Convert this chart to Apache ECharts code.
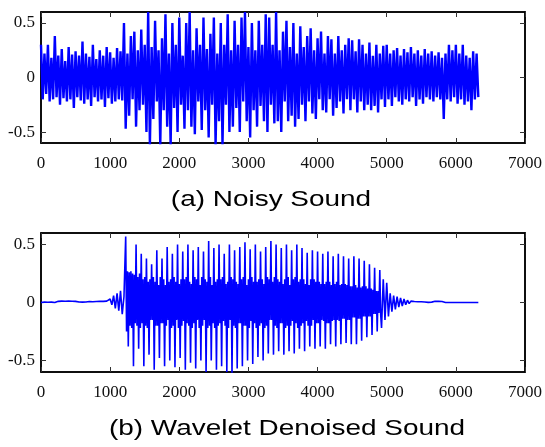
<!DOCTYPE html>
<html>
<head>
<meta charset="utf-8">
<script src="https://cdn.jsdelivr.net/npm/echarts@6/dist/echarts.min.js"></script>
<style>
  html, body { margin: 0; padding: 0; background: #fff; }
  #chart { width: 545px; height: 447px; }
</style>
</head>
<body>
<div id="chart"></div>
<script>
const xTicks = [0, 1000, 2000, 3000, 4000, 5000, 6000, 7000];
const yTicks = [-0.5, 0, 0.5];

// (a) noisy sound: one value every 25 samples from sample 0
const noisy = [
  0.3, -0.2, 0.22, -0.15, 0.3, -0.22, 0.18, -0.2, 0.38, -0.18,
  0.2, -0.25, 0.26, -0.19, 0.15, -0.22, 0.28, -0.2, 0.21, -0.28,
  0.24, -0.18, 0.2, -0.21, 0.33, -0.24, 0.22, -0.2, 0.19, -0.26,
  0.3, -0.18, 0.17, -0.22, 0.25, -0.2, 0.2, -0.27, 0.28, -0.19,
  0.23, -0.24, 0.18, -0.22, 0.27, -0.2, 0.24, -0.21,
  0.5, -0.47, 0.22, -0.35, 0.38, -0.2, 0.42, -0.45, 0.25, -0.3,
  0.44, -0.25, 0.3, -0.5, 0.6, -0.62, 0.28, -0.38, 0.52, -0.22,
  0.25, -0.62, 0.36, -0.3, 0.58, -0.45, 0.22, -0.62, 0.5, -0.28,
  0.3, -0.5, 0.55, -0.25, 0.2, -0.47, 0.5, -0.3, 0.6, -0.45,
  0.25, -0.52, 0.45, -0.22, 0.3, -0.48, 0.55, -0.3, 0.26, -0.55,
  0.4, -0.25, 0.55, -0.62, 0.22, -0.4, 0.5, -0.62, 0.3, -0.25,
  0.58, -0.5, 0.25, -0.45, 0.52, -0.28, 0.3, -0.5, 0.55, -0.22,
  0.6, -0.4, 0.28, -0.55, 0.5, -0.3, 0.25, -0.45, 0.52, -0.26,
  0.3, -0.4, 0.58, -0.5,
  0.55, -0.25, 0.3, -0.42, 0.6, -0.4, 0.25, -0.5, 0.42, -0.22,
  0.52, -0.4, 0.28, -0.35, 0.5, -0.45, 0.22, -0.38, 0.47, -0.25,
  0.28, -0.4, 0.38, -0.22, 0.45, -0.33, 0.25, -0.38, 0.36, -0.2,
  0.42, -0.3, 0.22, -0.32, 0.38, -0.2, 0.35, -0.35, 0.22, -0.28,
  0.38, -0.22, 0.25, -0.33, 0.3, -0.2, 0.36, -0.3,
  0.34, -0.2, 0.24, -0.32, 0.35, -0.22, 0.3, -0.3, 0.22, -0.25,
  0.32, -0.3, 0.2, -0.26, 0.3, -0.32, 0.22, -0.2, 0.29, -0.27,
  0.3, -0.2, 0.22, -0.26, 0.25, -0.18, 0.27, -0.22, 0.2, -0.25,
  0.26, -0.2, 0.23, -0.22, 0.28, -0.18, 0.22, -0.26, 0.25, -0.2,
  0.2, -0.24, 0.26, -0.18, 0.22, -0.2, 0.24, -0.22, 0.2, -0.18,
  0.23, -0.2, 0.18, -0.38, 0.22, -0.2, 0.3, -0.22, 0.25, -0.18,
  0.3, -0.24, 0.22, -0.2, 0.3, -0.25, 0.2, -0.22, 0.18, -0.3,
  0.24, -0.2, 0.22, -0.18
];

// (b) wavelet denoised sound, in three stretches
// lead-in: every 25 samples from sample 0
const denoisedHead = [
  0, 0, 0.003, 0, 0.002, 0, 0.003, 0, 0, 0.002,
  0.01, 0.008, 0.012, 0.01, 0.011, 0.009, 0.012, 0.01, 0.011, 0.008,
  0.01, 0.006, 0.004, 0.005, 0.003, 0.006, 0.004, 0.005, 0.008, 0.006,
  0.007, 0.01, 0.009, 0.011, 0.01, 0.012, 0.01, 0.011, 0.012, 0.01,
  0.03, -0.02, 0.06, -0.05, 0.08, -0.07, 0.1, -0.1, 0.05
];
// voiced part: every 12.5 samples from sample 1225
const denoisedVoiced = [
  0.57, -0.25, 0.27, -0.38, 0.26, -0.2,
  0.27, -0.22, 0.25, -0.55, 0.24, -0.18,
  0.5, -0.2, 0.22, -0.4, 0.25, -0.22,
  0.42, -0.18, 0.2, -0.55, 0.22, -0.2,
  0.38, -0.22, 0.18, -0.45, 0.2, -0.15,
  0.33, -0.15, 0.22, -0.58, 0.18, -0.2,
  0.45, -0.2, 0.15, -0.48, 0.22, -0.18,
  0.38, -0.18, 0.2, -0.55, 0.15, -0.2,
  0.48, -0.15, 0.18, -0.5, 0.2, -0.22,
  0.42, -0.2, 0.22, -0.56, 0.18, -0.15,
  0.5, -0.22, 0.16, -0.48, 0.2, -0.2,
  0.44, -0.16, 0.2, -0.58, 0.22, -0.18,
  0.5, -0.2, 0.18, -0.52, 0.16, -0.22,
  0.45, -0.18, 0.22, -0.57, 0.2, -0.15,
  0.48, -0.22, 0.15, -0.5, 0.22, -0.2,
  0.44, -0.15, 0.2, -0.6, 0.18, -0.22,
  0.53, -0.2, 0.22, -0.5, 0.15, -0.18,
  0.47, -0.22, 0.18, -0.58, 0.2, -0.2,
  0.5, -0.18, 0.2, -0.55, 0.22, -0.16,
  0.42, -0.2, 0.16, -0.6, 0.18, -0.22,
  0.5, -0.15, 0.22, -0.62, 0.2, -0.2,
  0.45, -0.22, 0.18, -0.57, 0.16, -0.18,
  0.48, -0.18, 0.2, -0.55, 0.22, -0.2,
  0.52, -0.2, 0.15, -0.5, 0.2, -0.22,
  0.46, -0.16, 0.22, -0.53, 0.18, -0.18,
  0.5, -0.22, 0.18, -0.47, 0.2, -0.2,
  0.44, -0.18, 0.2, -0.5, 0.16, -0.22,
  0.48, -0.2, 0.22, -0.44, 0.2, -0.15,
  0.53, -0.15, 0.18, -0.45, 0.22, -0.2,
  0.5, -0.22, 0.2, -0.42, 0.18, -0.18,
  0.47, -0.18, 0.16, -0.45, 0.2, -0.22,
  0.5, -0.2, 0.22, -0.42, 0.15, -0.2,
  0.45, -0.16, 0.2, -0.44, 0.22, -0.18,
  0.5, -0.22, 0.18, -0.4, 0.2, -0.2,
  0.47, -0.18, 0.2, -0.42, 0.16, -0.16,
  0.43, -0.2, 0.15, -0.38, 0.2, -0.2,
  0.45, -0.15, 0.2, -0.4, 0.18, -0.18,
  0.44, -0.18, 0.18, -0.38, 0.16, -0.15,
  0.42, -0.16, 0.16, -0.4, 0.18, -0.18,
  0.44, -0.18, 0.18, -0.36, 0.15, -0.16,
  0.4, -0.15, 0.16, -0.38, 0.18, -0.15,
  0.42, -0.16, 0.15, -0.36, 0.16, -0.14,
  0.4, -0.14, 0.16, -0.35, 0.15, -0.15,
  0.38, -0.15, 0.14, -0.36, 0.14, -0.13,
  0.4, -0.13, 0.15, -0.36, 0.13, -0.14,
  0.38, -0.14, 0.13, -0.33, 0.14, -0.12,
  0.36, -0.12, 0.14, -0.3, 0.12, -0.12,
  0.33, -0.12, 0.12, -0.28, 0.11, -0.1,
  0.3, -0.1, 0.1, -0.25, 0.1, -0.09,
  0.28, -0.1, -0.22
];
// tail: every 25 samples from sample 4950
const denoisedTail = [
  0.2, -0.15, 0.17, -0.12, 0.08, -0.08, 0.06, -0.06, 0.05,
  -0.04, 0.04, -0.03, 0.03, -0.02, 0.02, -0.01, 0.012, 0.005, 0.008,
  0.004, 0.007, 0.005, 0.006, 0.003, 0.004, 0.002, 0.001, 0.002, 0.003,
  0.006, 0.01, 0.012, 0.01, 0.012, 0.008, 0.001, 0, 0, 0,
  0, 0, 0, 0, 0, 0, 0, 0, 0, 0,
  0, 0, 0, 0, 0, 0, 0
];

const titles = ["(a) Noisy Sound", "(b) Wavelet Denoised Sound"];

const tickFont = { fontFamily: "Liberation Serif", fontSize: 17, color: "#111" };
const boxLine = { show: true, onZero: false, lineStyle: { color: "#000", width: 1.5 } };

function xAxisPair(gridIndex) {
  const base = {
    type: "value", gridIndex, min: 0, max: 7000, interval: 1000,
    axisLine: boxLine, splitLine: { show: false },
    axisTick: { inside: true, length: 5, lineStyle: { color: "#333", width: 1 } }
  };
  return [
    { ...base, position: "bottom", axisLabel: { ...tickFont, margin: 12, formatter: (v) => String(v) } },
    { ...base, position: "top", axisLabel: { show: false } }
  ];
}

function yAxisPair(gridIndex) {
  const base = {
    type: "value", gridIndex, min: -0.6, max: 0.6,
    axisLine: boxLine, splitLine: { show: false },
    axisTick: { inside: true, length: 5, customValues: yTicks, lineStyle: { color: "#333", width: 1 } }
  };
  return [
    { ...base, position: "left", axisLabel: { ...tickFont, margin: 6, customValues: yTicks } },
    { ...base, position: "right", axisLabel: { show: false } }
  ];
}

const toPoints = (arr, start, step) => arr.map((v, i) => [start + i * step, v]);

const denoisedPoints = [
  ...toPoints(denoisedHead, 0, 25),
  ...toPoints(denoisedVoiced, 1225, 12.5),
  ...toPoints(denoisedTail, 4950, 25)
];

const chart = echarts.init(document.getElementById("chart"), null, { renderer: "canvas" });

chart.setOption({
  animation: false,
  backgroundColor: "#fff",
  grid: [
    { left: 41, right: 16, top: 12, height: 131, show: true, borderColor: "#000", borderWidth: 1.5 },
    { left: 41, right: 16, top: 233, height: 139, show: true, borderColor: "#000", borderWidth: 1.5 }
  ],
  xAxis: [...xAxisPair(0), ...xAxisPair(1)],
  yAxis: [...yAxisPair(0), ...yAxisPair(1)],
  graphic: [
    {
      type: "text", x: 271, y: 200, scaleX: 1.27,
      style: { text: titles[0], font: '22px "Liberation Sans"', fill: "#000", align: "center", verticalAlign: "middle" }
    },
    {
      type: "text", x: 287, y: 429, scaleX: 1.27,
      style: { text: titles[1], font: '22px "Liberation Sans"', fill: "#000", align: "center", verticalAlign: "middle" }
    }
  ],
  series: [
    {
      type: "line", xAxisIndex: 0, yAxisIndex: 0, data: toPoints(noisy, 0, 25),
      showSymbol: false, clip: true, lineStyle: { color: "#0000ff", width: 2.4 }
    },
    {
      type: "line", xAxisIndex: 2, yAxisIndex: 2, data: denoisedPoints,
      showSymbol: false, clip: true, lineStyle: { color: "#0000ff", width: 1.6 }
    }
  ]
});
</script>
</body>
</html>
